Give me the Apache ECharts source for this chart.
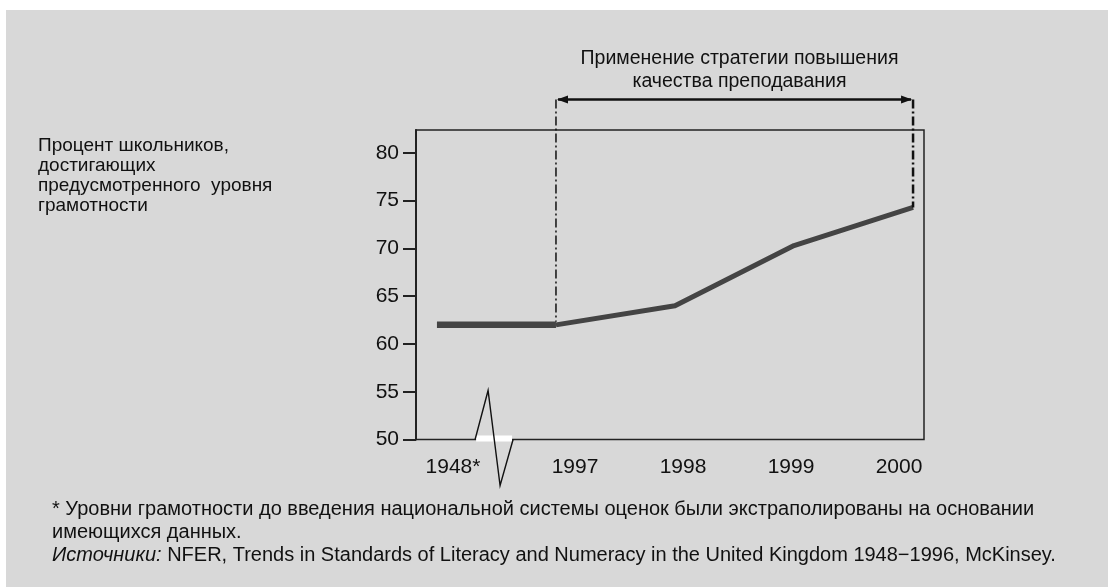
<!DOCTYPE html>
<html>
<head>
<meta charset="utf-8">
<script src="https://cdn.jsdelivr.net/npm/echarts@6/dist/echarts.min.js"></script>
<style>
  html, body { margin: 0; padding: 0; background: #ffffff; }
  #bg { position: absolute; left: 6px; top: 10px; right: 0; bottom: 0; background: #d8d8d8; }
  #chart { position: absolute; left: 0; top: 0; width: 1108px; height: 587px; }
</style>
</head>
<body>
<div id="bg"></div>
<div id="chart"></div>
<script>
// ---- data ----
const categories = ['1948*', '1997', '1998', '1999', '2000'];
const values = [62, 62, 64, 70.3, 74.3];
const yTicks = [50, 55, 60, 65, 70, 75, 80];
const yAxisTitle = 'Процент школьников,\nдостигающих\nпредусмотренного  уровня\nграмотности';
const bracketLabel = 'Применение стратегии повышения\nкачества преподавания';
const bracketLevel = 85.6;   // annotation level (data units) of the bracket arrow
const breakAt = 0.48;        // axis-break position between 1948* and 1997
const footnote1 = '* Уровни грамотности до введения национальной системы оценок были экстраполированы на основании';
const footnote2 = 'имеющихся данных.';
const sourceLabel = 'Источники:';
const sourceText = ' NFER, Trends in Standards of Literacy and Numeracy in the United Kingdom 1948−1996, McKinsey.';

const FONT = '"Liberation Sans", Arial, Helvetica, sans-serif';
const INK = '#111111';

const pts = categories.map((c, i) => [i, values[i]]);
const flatPart = pts.slice(0, 2);
const risePart = pts.slice(1);

const chart = echarts.init(document.getElementById('chart'), null, { renderer: 'canvas' });

const option = {
  backgroundColor: 'transparent',
  animation: false,
  textStyle: { fontFamily: FONT },
  grid: [
    { left: 416, top: 130, width: 508, height: 309.5, show: true, borderColor: '#222', borderWidth: 1.5, backgroundColor: 'transparent' },
    { left: 413, top: 130, width: 540, height: 309.5, show: false }
  ],
  xAxis: [
    { type: 'value', gridIndex: 0, min: -0.176, max: 4.092,
      axisLine: { show: false, onZero: false }, axisTick: { show: false }, axisLabel: { show: false }, splitLine: { show: false } },
    { type: 'category', gridIndex: 1, data: categories, boundaryGap: true, position: 'bottom',
      axisLine: { show: false, onZero: false }, axisTick: { show: false }, splitLine: { show: false },
      axisLabel: {
        interval: 0, hideOverlap: false,
        margin: 17, color: INK, fontSize: 21, fontFamily: FONT,
        formatter: (v, i) => i === 0 ? '{a|' + v + '}' : v,
        rich: { a: { fontSize: 21, fontFamily: FONT, color: INK, padding: [0, 28, 0, 0] } }
      } }
  ],
  yAxis: [
    { type: 'value', gridIndex: 0, min: 50, max: 82.4, interval: 5,
      axisLine: { show: true, onZero: false, lineStyle: { color: '#222', width: 2 } },
      axisTick: { show: true, length: 13, inside: false, customValues: yTicks, lineStyle: { color: '#222', width: 2 } },
      axisLabel: { margin: 17, color: INK, fontSize: 21, fontFamily: FONT, customValues: yTicks },
      splitLine: { show: false } },
    { type: 'value', gridIndex: 1, show: false, min: 0, max: 1 }
  ],
  series: [
    { type: 'line', name: 'flat', xAxisIndex: 0, yAxisIndex: 0, data: flatPart, showSymbol: false, symbol: 'none',
      lineStyle: { color: '#444444', width: 6.5, cap: 'butt' }, z: 3 },
    { type: 'line', name: 'rise', xAxisIndex: 0, yAxisIndex: 0, data: risePart, showSymbol: false, symbol: 'none',
      lineStyle: { color: '#444444', width: 5, cap: 'butt', join: 'round' }, z: 3 },
    { type: 'custom', xAxisIndex: 0, yAxisIndex: 0, clip: false, z: 4, silent: true,
      data: [[0, 50]],
      renderItem: function (params, api) {
        const pL = api.coord([1, values[1]]);
        const pR = api.coord([4, values[4]]);
        const yTop = api.coord([0, bracketLevel])[1];
        const b = api.coord([breakAt, 50]);
        const dash = [9, 3, 2, 3];
        return {
          type: 'group',
          children: [
            { type: 'line', shape: { x1: pL[0], y1: yTop, x2: pL[0], y2: pL[1] - 3 }, style: { stroke: INK, lineWidth: 1.5, lineDash: dash } },
            { type: 'line', shape: { x1: pR[0], y1: yTop, x2: pR[0], y2: pR[1] }, style: { stroke: INK, lineWidth: 2.5, lineDash: dash } },
            { type: 'line', shape: { x1: pL[0] + 2, y1: yTop, x2: pR[0] - 2, y2: yTop }, style: { stroke: INK, lineWidth: 2.5 } },
            { type: 'polygon', shape: { points: [[pL[0] + 1, yTop], [pL[0] + 12, yTop - 4], [pL[0] + 12, yTop + 4]] }, style: { fill: INK } },
            { type: 'polygon', shape: { points: [[pR[0] - 1, yTop], [pR[0] - 12, yTop - 4], [pR[0] - 12, yTop + 4]] }, style: { fill: INK } },
            { type: 'text', style: { text: bracketLabel, x: (pL[0] + pR[0]) / 2 + 5, y: yTop - 6, align: 'center', verticalAlign: 'bottom',
                fontSize: 19.5, fontFamily: FONT, fill: INK, lineHeight: 23 } },
            { type: 'rect', shape: { x: b[0] - 18, y: b[1] - 4, width: 36, height: 6 }, style: { fill: '#ffffff' } },
            { type: 'polyline', shape: { points: [[b[0] - 19, b[1]], [b[0] - 6, b[1] - 49], [b[0] + 6, b[1] + 46], [b[0] + 19, b[1]]] },
              style: { stroke: INK, lineWidth: 1.4, fill: null } }
          ]
        };
      }
    }
  ],
  graphic: [
    { type: 'text', left: 38, top: 136, style: { text: yAxisTitle, fontSize: 19, fontFamily: FONT, fill: INK, lineHeight: 20 } },
    { type: 'text', left: 52, top: 497.5, style: { text: footnote1 + '\n' + footnote2, fontSize: 20, fontFamily: FONT, fill: INK, lineHeight: 23 } },
    { type: 'text', left: 52, top: 543.5, style: { text: '{i|' + sourceLabel + '}' + sourceText, fontSize: 20, fontFamily: FONT, fill: INK, lineHeight: 23,
        rich: { i: { fontStyle: 'italic', fontSize: 20, fontFamily: FONT, fill: INK, lineHeight: 23 } } } }
  ]
};

chart.setOption(option);
</script>
</body>
</html>
